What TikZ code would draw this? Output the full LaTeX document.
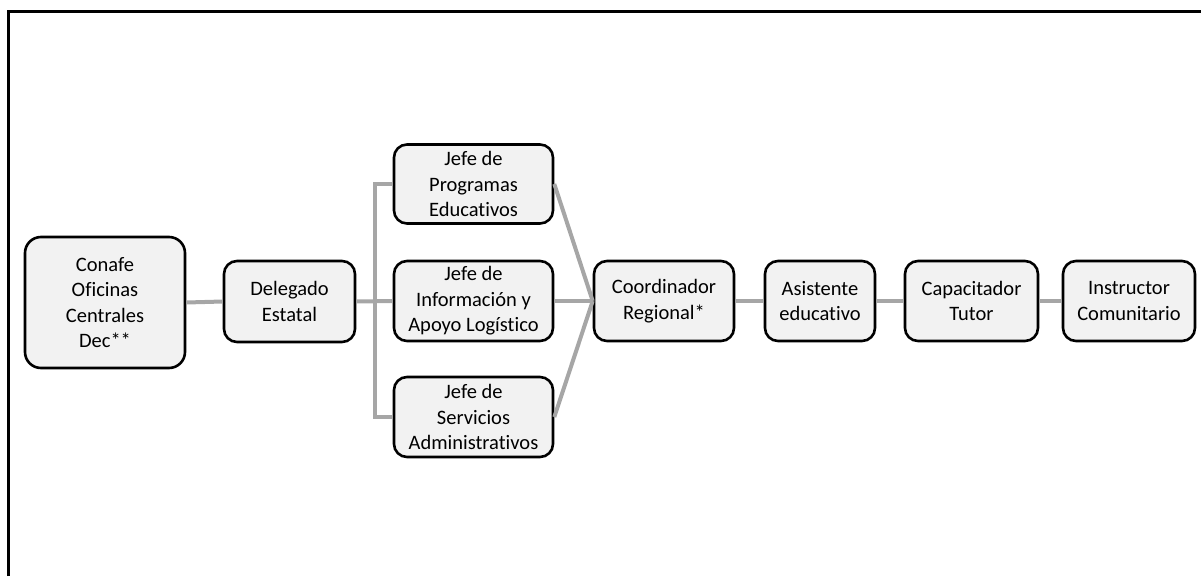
\documentclass[tikz,border=0pt]{standalone}
\usepackage{fontspec}
\setmainfont{Carlito}[RawFeature={-liga}]
\begin{document}
\begin{tikzpicture}[x=1pt,y=-1pt,
  box/.style={draw=black,line width=2.6pt,fill=boxfill,rounded corners=13pt,
    align=center,inner sep=0pt,font=\fontsize{20.5}{25.5}\selectfont},
  link/.style={draw=linkgray,line width=4pt}]
\definecolor{boxfill}{HTML}{F2F2F2}
\definecolor{linkgray}{HTML}{A6A6A6}
\useasboundingbox (0,0) rectangle (1201,576);
\draw[line width=3pt] (8.5,576) -- (8.5,11) -- (1201,11);
\node[box,minimum width=160pt,minimum height=131pt,rounded corners=16pt] (conafe) at (105,302.5) {Conafe\\Oficinas\\Centrales\\Dec**};
\node[box,minimum width=131pt,minimum height=81pt] (deleg) at (289.5,301.5) {Delegado\\Estatal};
\node[box,minimum width=159pt,minimum height=79pt] (jp) at (473.5,184) {Jefe de\\Programas\\Educativos};
\node[box,minimum width=159pt,minimum height=80pt] (ji) at (473.5,301) {Jefe de\\Información y\\Apoyo Logístico};
\node[box,minimum width=159pt,minimum height=80pt] (js) at (473.5,417) {Jefe de\\Servicios\\Administrativos};
\node[box,minimum width=140pt,minimum height=80pt] (coord) at (664,301) {Coordinador\\Regional*};
\node[box,minimum width=110pt,minimum height=80pt] (asist) at (820,301) {Asistente\\educativo};
\node[box,minimum width=133pt,minimum height=80pt] (capac) at (971.5,301) {Capacitador\\Tutor};
\node[box,minimum width=132pt,minimum height=80pt] (instr) at (1129,301) {Instructor\\Comunitario};
\coordinate (trunk) at (375,301);
\path[link] (conafe.east) -- (deleg.west);
\path[link] (deleg.east) -- (ji.west);
\path[link] (jp.west) -| (trunk) |- (js.west);
\path[link] (jp.east) -- (coord.west);
\path[link] (ji.east) -- (coord.west);
\path[link] (js.east) -- (coord.west);
\path[link] (coord.east) -- (asist.west);
\path[link] (asist.east) -- (capac.west);
\path[link] (capac.east) -- (instr.west);
\end{tikzpicture}
\end{document}
